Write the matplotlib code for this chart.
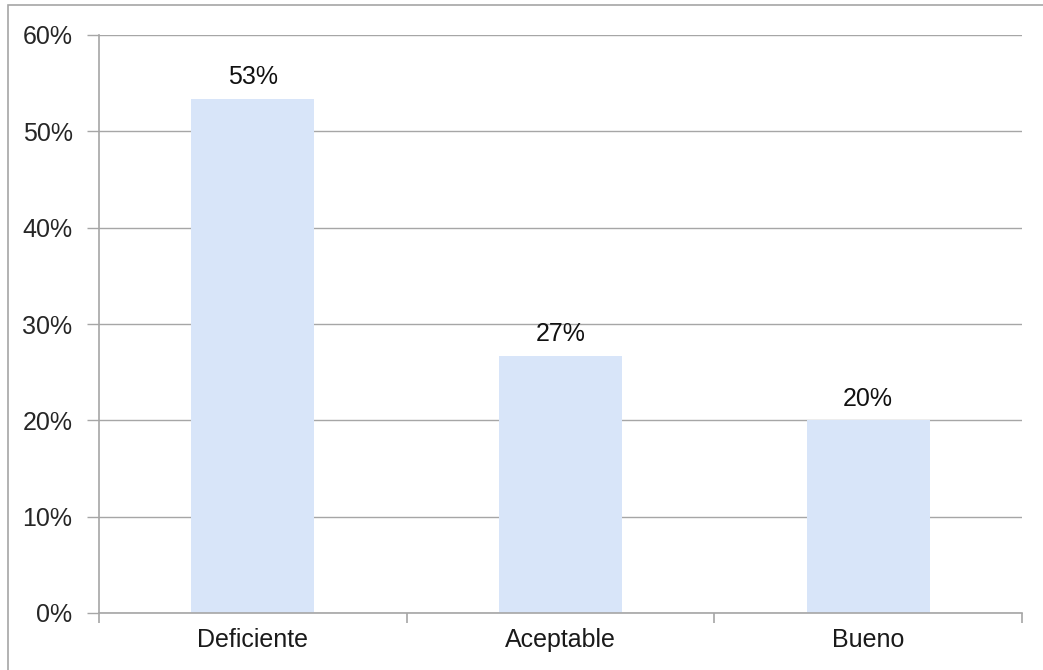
import matplotlib
matplotlib.use("Agg")
import matplotlib.pyplot as plt
from matplotlib.ticker import FixedLocator, PercentFormatter
from matplotlib.patches import Rectangle

categories = ["Deficiente", "Aceptable", "Bueno"]
values = [53.4, 26.7, 20.0]
yticks = [0, 10, 20, 30, 40, 50, 60]

plt.rcParams['font.family'] = ['Liberation Sans', 'DejaVu Sans']

W, H = 1043, 670
fig = plt.figure(figsize=(W / 100, H / 100), dpi=100)
fig.patch.set_facecolor("white")

# figure border (left/top visible)
fig.add_artist(Rectangle((8 / W, -0.1), 1.2, (1 - 5 / H) + 0.1, transform=fig.transFigure,
                         fill=False, edgecolor="#a6a6a6", linewidth=1.2))

ax = fig.add_axes([99 / W, 1 - 613 / H, (1022 - 99) / W, (613 - 35) / H])
x = list(range(len(categories)))
bars = ax.bar(x, values, width=0.4, color="#d8e5f9", zorder=2)

ax.set_xlim(-0.5, len(categories) - 0.5)
ax.set_ylim(0, 60)
ax.set_yticks(yticks)
ax.yaxis.set_major_formatter(PercentFormatter(decimals=0))
ax.yaxis.grid(True, color="#a6a6a6", linewidth=1.0, zorder=0)
ax.set_axisbelow(True)

FS = 18
ax.set_xticks(x)
ax.set_xticklabels(categories)
ax.xaxis.set_minor_locator(FixedLocator([i - 0.5 for i in range(len(categories) + 1)]))
ax.tick_params(axis="x", which="major", length=0, pad=11, labelsize=FS, labelcolor="#1a1a1a")
ax.tick_params(axis="x", which="minor", length=7, direction="out", color="#a6a6a6", width=1.2)
ax.tick_params(axis="y", length=9, direction="out", color="#a6a6a6", width=1.0, pad=10,
               labelsize=FS, labelcolor="#262626")

for s in ["top", "right"]:
    ax.spines[s].set_visible(False)
for s in ["left", "bottom"]:
    ax.spines[s].set_color("#a6a6a6")
    ax.spines[s].set_linewidth(1.2)

for b, v in zip(bars, values):
    ax.annotate(f"{v:.0f}%", (b.get_x() + b.get_width() / 2, v), xytext=(0, 7),
                textcoords="offset points", ha="center", va="bottom", fontsize=FS,
                color="#111111")

fig.savefig("out.png", dpi=100, facecolor="white")
